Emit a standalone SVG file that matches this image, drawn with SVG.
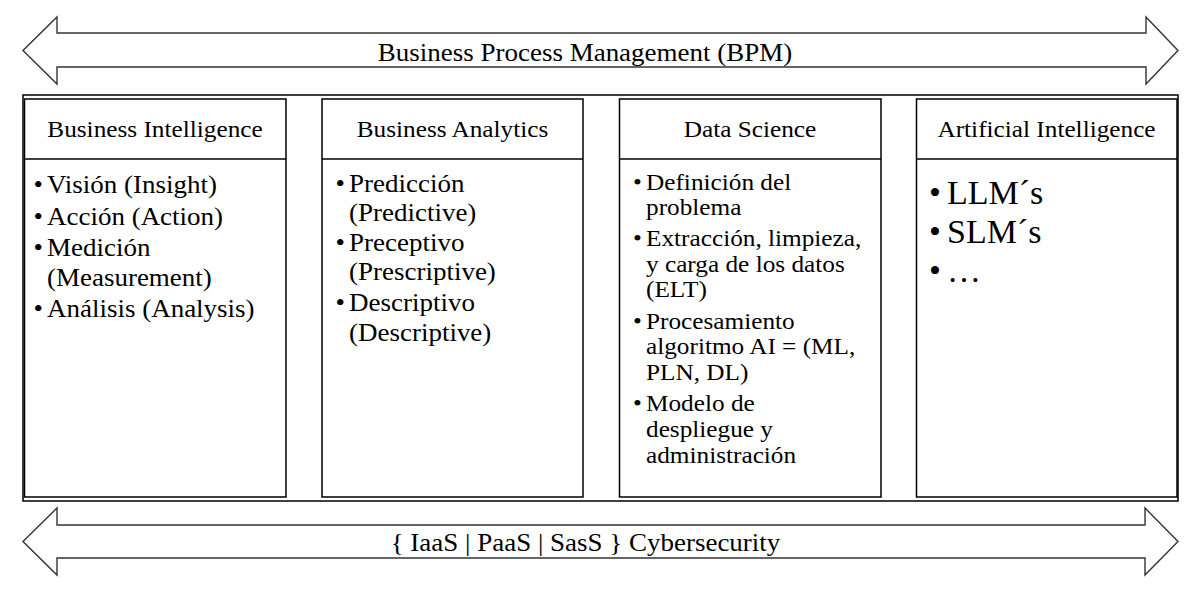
<svg xmlns="http://www.w3.org/2000/svg" width="1195" height="593" viewBox="0 0 1195 593">
<style>
text{font-family:"Liberation Serif","Times New Roman",serif;fill:#000}
.t{font-size:25px}
.h{font-size:23.4px;text-anchor:middle}
.b{font-size:25px}
.s{font-size:23.4px}
.ai{font-size:34px}
.box{fill:#fff;stroke:#000;stroke-width:1.5}
.arr{fill:#fff;stroke:#333;stroke-width:1.4;stroke-linejoin:miter}
</style>
<rect width="1195" height="593" fill="#fff"/>
<g id="connectors">
  <g id="bpm-arrow">
    <polygon class="arr" points="23,50.5 57,17 57,33 1146,33 1146,17 1178,50.5 1146,84 1146,67 57,67 57,84"/>
    <text class="t" text-anchor="middle" transform="translate(585,60.5) scale(1.08,1)">Business Process Management (BPM)</text>
  </g>
  <g id="cloud-arrow">
    <polygon class="arr" points="23,541.5 57,508 57,525 1145,525 1145,508 1178,541.5 1145,575 1145,558 57,558 57,575"/>
    <text class="t" text-anchor="middle" transform="translate(585.5,551) scale(1.08,1)">{ IaaS | PaaS | SasS } Cybersecurity</text>
  </g>
</g>
<g id="container">
  <rect x="23" y="95" width="1155" height="406" fill="#fff" stroke="#000" stroke-width="1.5"/>
</g>
<g id="bi">
  <rect class="box" x="24.5" y="99" width="261.5" height="398"/>
  <line x1="24.5" y1="159" x2="286" y2="159" stroke="#000" stroke-width="1.5"/>
  <text class="h" transform="translate(155,137) scale(1.08,1)">Business Intelligence</text>
  <g class="b" transform="translate(47,0) scale(1.08,1)">
    <text x="-12.5" y="193">•</text><text x="0" y="193">Visión (Insight)</text>
    <text x="-12.5" y="225">•</text><text x="0" y="225">Acción (Action)</text>
    <text x="-12.5" y="256">•</text><text x="0" y="256">Medición</text>
    <text x="0" y="286">(Measurement)</text>
    <text x="-12.5" y="317">•</text><text x="0" y="317">Análisis (Analysis)</text>
  </g>
</g>
<g id="ba">
  <rect class="box" x="322" y="99" width="261" height="398"/>
  <line x1="322" y1="159" x2="583" y2="159" stroke="#000" stroke-width="1.5"/>
  <text class="h" transform="translate(452.5,137) scale(1.08,1)">Business Analytics</text>
  <g class="b" transform="translate(349,0) scale(1.08,1)">
    <text x="-12.5" y="192">•</text><text x="0" y="192">Predicción</text>
    <text x="0" y="221.5">(Predictive)</text>
    <text x="-12.5" y="251">•</text><text x="0" y="251">Preceptivo</text>
    <text x="0" y="280.5">(Prescriptive)</text>
    <text x="-12.5" y="311.5">•</text><text x="0" y="311.5">Descriptivo</text>
    <text x="0" y="341">(Descriptive)</text>
  </g>
</g>
<g id="ds">
  <rect class="box" x="619.5" y="99" width="261.5" height="398"/>
  <line x1="619.5" y1="159" x2="881" y2="159" stroke="#000" stroke-width="1.5"/>
  <text class="h" transform="translate(750,137) scale(1.08,1)">Data Science</text>
  <g class="s" transform="translate(646,0) scale(1.08,1)">
    <text x="-12" y="190">•</text><text x="0" y="190">Definición del</text>
    <text x="0" y="215.5">problema</text>
    <text x="-12" y="246.5">•</text><text x="0" y="246.5">Extracción, limpieza,</text>
    <text x="0" y="272">y carga de los datos</text>
    <text x="0" y="297.5">(ELT)</text>
    <text x="-12" y="329">•</text><text x="0" y="329">Procesamiento</text>
    <text x="0" y="354.5">algoritmo AI = (ML,</text>
    <text x="0" y="380">PLN, DL)</text>
    <text x="-12" y="411.5">•</text><text x="0" y="411.5">Modelo de</text>
    <text x="0" y="437">despliegue y</text>
    <text x="0" y="463">administración</text>
  </g>
</g>
<g id="ai">
  <rect class="box" x="916.5" y="99" width="260.5" height="398"/>
  <line x1="916.5" y1="159" x2="1177" y2="159" stroke="#000" stroke-width="1.5"/>
  <text class="h" transform="translate(1046.5,137) scale(1.08,1)">Artificial Intelligence</text>
  <g class="ai">
    <text x="929" y="204">•</text><text x="947" y="204">LLM´s</text>
    <text x="929" y="243">•</text><text x="947" y="243">SLM´s</text>
    <text x="929" y="282">•</text><text x="947" y="282">…</text>
  </g>
</g>
</svg>
